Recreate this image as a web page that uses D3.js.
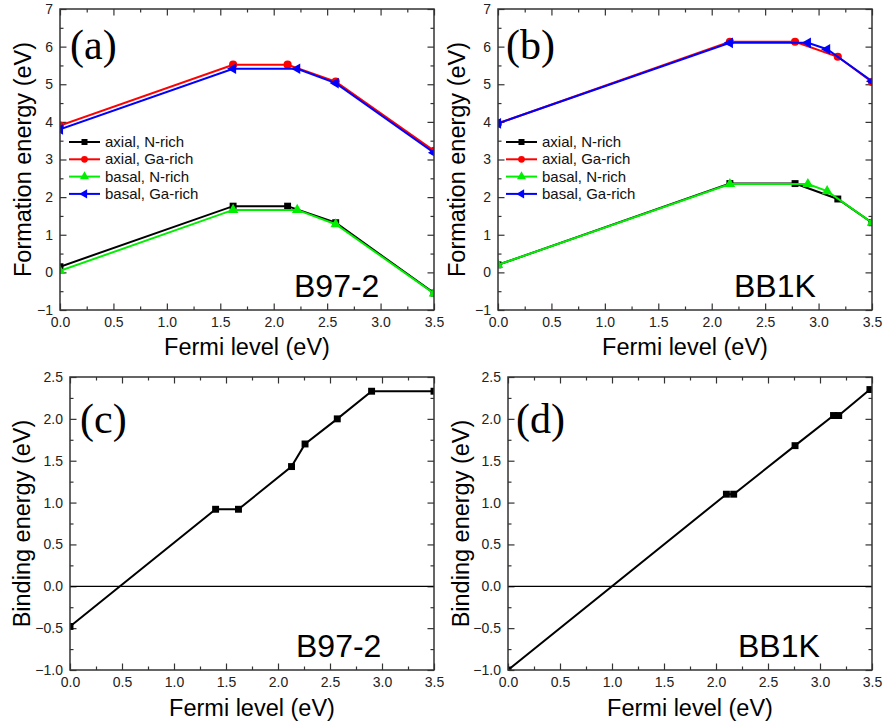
<!DOCTYPE html>
<html>
<head>
<meta charset="utf-8">
<script src="https://cdn.jsdelivr.net/npm/d3@7"></script>
<style>
  body { margin: 0; background: #fff; }
  svg { display: block; }
  .tick text { font-family: "Liberation Sans", Arial, sans-serif; font-size: 14px; fill: #222; }
  .tick line { stroke: #333; stroke-width: 1.2; }
  .domain { display: none; }
</style>
</head>
<body>
<div id="chart"></div>
<script>
// series names / colours for the formation energy panels
var seriesNames = ["axial, N-rich", "axial, Ga-rich", "basal, N-rich", "basal, Ga-rich"];
var seriesColors = ["#000000", "#ff0000", "#00ee00", "#0000ff"];

// (a) B97-2 formation energy
var aX = [
  [0, 1.62, 2.13, 2.58, 3.5],
  [0, 1.62, 2.13, 2.58, 3.5],
  [0, 1.62, 2.22, 2.58, 3.5],
  [0, 1.62, 2.22, 2.58, 3.5]
];
var aY = [
  [0.15, 1.76, 1.76, 1.32, -0.55],
  [3.9, 5.52, 5.52, 5.07, 3.23],
  [0.04, 1.66, 1.66, 1.28, -0.56],
  [3.8, 5.41, 5.41, 5.03, 3.18]
];

// (b) BB1K formation energy
var bX = [
  [0, 2.17, 2.78, 3.18, 3.5],
  [0, 2.17, 2.78, 3.18, 3.5],
  [0, 2.17, 2.9, 3.08, 3.5],
  [0, 2.17, 2.9, 3.08, 3.5]
];
var bY = [
  [0.2, 2.36, 2.36, 1.95, 1.32],
  [3.96, 6.13, 6.13, 5.73, 5.06],
  [0.2, 2.35, 2.35, 2.16, 1.32],
  [3.96, 6.1, 6.1, 5.93, 5.08]
];

// (c) B97-2 binding energy
var cX = [0, 1.4, 1.62, 2.13, 2.26, 2.57, 2.9, 3.5];
var cY = [-0.48, 0.92, 0.92, 1.43, 1.7, 2.0, 2.33, 2.33];

// (d) BB1K binding energy
var dX = [0, 2.1, 2.17, 2.76, 3.13, 3.18, 3.48];
var dY = [-1.0, 1.1, 1.1, 1.68, 2.04, 2.04, 2.35];

var xTicks = [0, 0.5, 1.0, 1.5, 2.0, 2.5, 3.0, 3.5];
var feTicks = [-1, 0, 1, 2, 3, 4, 5, 6, 7];
var beTicks = [-1.0, -0.5, 0.0, 0.5, 1.0, 1.5, 2.0, 2.5];

var W = 884, H = 727;
var svg = d3.select("#chart").append("svg").attr("width", W).attr("height", H);

var symbols = [d3.symbolSquare, d3.symbolCircle, d3.symbolTriangle, d3.symbolTriangle];
var rotations = [0, 0, 0, -90];

function zip(xs, ys) {
  return xs.map(function(x, i) { return {x: x, y: ys[i]}; });
}

function drawPanel(p) {
  var g = svg.append("g").attr("transform", "translate(" + p.left + "," + p.top + ")");
  var w = p.right - p.left, h = p.bottom - p.top;

  var x = d3.scaleLinear().domain([0, 3.5]).range([0, w]);
  var y = d3.scaleLinear().domain(p.yDomain).range([h, 0]);

  var clipId = "clip-" + p.id;
  g.append("clipPath").attr("id", clipId)
    .append("rect").attr("x", 0).attr("y", 0).attr("width", w).attr("height", h);

  // minor ticks
  var xMinor = d3.range(0.25, 3.5, 0.5);
  var yMinor = p.yMinor;
  g.append("g").attr("transform", "translate(0," + h + ")")
    .call(d3.axisBottom(x).tickValues(xMinor).tickSize(-3.5).tickFormat(""));
  g.append("g").call(d3.axisTop(x).tickValues(xMinor).tickSize(-3.5).tickFormat(""));
  g.append("g").call(d3.axisLeft(y).tickValues(yMinor).tickSize(-3.5).tickFormat(""));
  g.append("g").attr("transform", "translate(" + w + ",0)")
    .call(d3.axisRight(y).tickValues(yMinor).tickSize(-3.5).tickFormat(""));

  // major ticks
  g.append("g").attr("transform", "translate(0," + h + ")")
    .call(d3.axisBottom(x).tickValues(xTicks).tickSize(-6.5).tickPadding(7).tickFormat(d3.format(".1f")));
  g.append("g").call(d3.axisTop(x).tickValues(xTicks).tickSize(-6.5).tickFormat(""));
  g.append("g")
    .call(d3.axisLeft(y).tickValues(p.yTicks).tickSize(-6.5).tickPadding(p.yPad).tickFormat(p.yFormat));
  g.append("g").attr("transform", "translate(" + w + ",0)")
    .call(d3.axisRight(y).tickValues(p.yTicks).tickSize(-6.5).tickFormat(""));

  // zero line
  if (p.zeroLine) {
    g.append("line")
      .attr("x1", 0).attr("x2", w).attr("y1", y(0)).attr("y2", y(0))
      .attr("stroke", "#000").attr("stroke-width", 1.2);
  }

  var data = g.append("g").attr("clip-path", "url(#" + clipId + ")");
  var line = d3.line().x(function(d) { return x(d.x); }).y(function(d) { return y(d.y); });

  p.series.forEach(function(s) {
    data.append("path").datum(s.points)
      .attr("fill", "none").attr("stroke", s.color).attr("stroke-width", 2)
      .attr("d", line);
    data.selectAll(null).data(s.points).enter().append("path")
      .attr("d", d3.symbol().type(s.symbol).size(s.size || 48))
      .attr("fill", s.color)
      .attr("transform", function(d) {
        return "translate(" + x(d.x) + "," + y(d.y) + ") rotate(" + (s.rotate || 0) + ")";
      });
  });

  // frame
  g.append("rect").attr("x", 0).attr("y", 0).attr("width", w).attr("height", h)
    .attr("fill", "none").attr("stroke", "#333").attr("stroke-width", 1.5);

  // legend
  if (p.legend) {
    p.series.forEach(function(s, i) {
      var ly = p.legend.y + i * 17.3;
      g.append("line").attr("x1", p.legend.x).attr("x2", p.legend.x + 31)
        .attr("y1", ly).attr("y2", ly).attr("stroke", s.color).attr("stroke-width", 2);
      g.append("path")
        .attr("d", d3.symbol().type(s.symbol).size(36))
        .attr("fill", s.color)
        .attr("transform", "translate(" + (p.legend.x + 15.5) + "," + ly + ") rotate(" + (s.rotate || 0) + ")");
      g.append("text").attr("x", p.legend.x + 36).attr("y", ly + 5)
        .attr("font-family", "Liberation Sans, Arial, sans-serif").attr("font-size", 15)
        .attr("fill", "#111").text(s.name);
    });
  }

  // panel letter and method label
  g.append("text").attr("x", p.letterX).attr("y", p.letterY)
    .attr("font-family", "Liberation Serif, Times New Roman, serif").attr("font-size", 42)
    .attr("fill", "#000").text(p.letter);
  g.append("text").attr("x", p.methodX).attr("y", p.methodY)
    .attr("font-family", "Liberation Sans, Arial, sans-serif").attr("font-size", 32)
    .attr("fill", "#000").text(p.method);

  // axis titles
  svg.append("text")
    .attr("x", p.left + w / 2).attr("y", p.xTitleY)
    .attr("text-anchor", "middle")
    .attr("font-family", "Liberation Sans, Arial, sans-serif").attr("font-size", 23.5)
    .attr("fill", "#000").text("Fermi level (eV)");
  svg.append("text")
    .attr("transform", "translate(" + p.yTitleX + "," + (p.top + h / 2) + ") rotate(-90)")
    .attr("text-anchor", "middle")
    .attr("font-family", "Liberation Sans, Arial, sans-serif").attr("font-size", 23.5)
    .attr("fill", "#000").text(p.yTitle);
}

function feSeries(xs, ys) {
  return seriesNames.map(function(name, i) {
    return {name: name, color: seriesColors[i], symbol: symbols[i], rotate: rotations[i],
            size: i === 1 ? 52 : 48, points: zip(xs[i], ys[i])};
  });
}

var feCommon = {
  yDomain: [-1, 7], yTicks: feTicks, yMinor: d3.range(-0.5, 7, 1),
  yFormat: d3.format("d"), yPad: 7, yTitle: "Formation energy (eV)"
};
var beCommon = {
  yDomain: [-1, 2.5], yTicks: beTicks, yMinor: d3.range(-0.75, 2.5, 0.5),
  yFormat: d3.format(".1f"), yPad: 7, yTitle: "Binding energy (eV)", zeroLine: true
};

drawPanel(Object.assign({}, feCommon, {
  id: "a", left: 60, right: 434, top: 9, bottom: 310,
  series: feSeries(aX, aY), legend: {x: 9, y: 133},
  letter: "(a)", letterX: 10, letterY: 50, method: "B97-2", methodX: 234, methodY: 288,
  xTitleY: 355, yTitleX: 31
}));
drawPanel(Object.assign({}, feCommon, {
  id: "b", left: 498, right: 872, top: 9, bottom: 310,
  series: feSeries(bX, bY), legend: {x: 8, y: 133},
  letter: "(b)", letterX: 8, letterY: 50, method: "BB1K", methodX: 236, methodY: 288,
  xTitleY: 355, yTitleX: 465
}));
drawPanel(Object.assign({}, beCommon, {
  id: "c", left: 70, right: 434, top: 377, bottom: 670,
  series: [{color: "#000", symbol: d3.symbolSquare, size: 48, points: zip(cX, cY)}],
  letter: "(c)", letterX: 10, letterY: 56, method: "B97-2", methodX: 226, methodY: 280,
  xTitleY: 716, yTitleX: 30
}));
drawPanel(Object.assign({}, beCommon, {
  id: "d", left: 508, right: 872, top: 377, bottom: 670,
  series: [{color: "#000", symbol: d3.symbolSquare, size: 48, points: zip(dX, dY)}],
  letter: "(d)", letterX: 8, letterY: 56, method: "BB1K", methodX: 230, methodY: 280,
  xTitleY: 716, yTitleX: 469
}));
</script>
</body>
</html>
